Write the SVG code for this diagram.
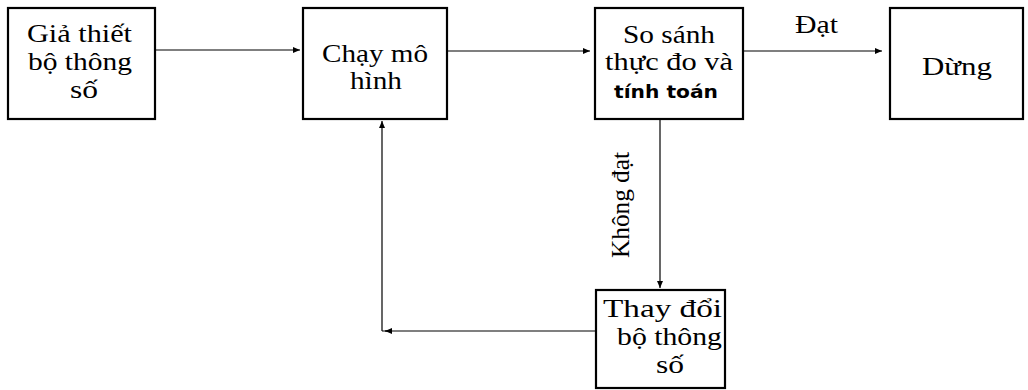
<svg xmlns="http://www.w3.org/2000/svg" width="1028" height="390" viewBox="0 0 1028 390">
<style>
.box{fill:#fff;stroke:#000;stroke-width:2.2}
.t{font-family:"Liberation Serif","Times New Roman",serif;font-size:26px;fill:#000}
.b{font-family:"DejaVu Sans",sans-serif;font-weight:bold;font-size:18px;fill:#000}
.c{fill:none;stroke:#000;stroke-width:1.2}
</style>
<defs>
<marker id="ah" viewBox="0 0 10 10" refX="10" refY="5" markerWidth="7" markerHeight="6" markerUnits="userSpaceOnUse" orient="auto" preserveAspectRatio="none">
<path d="M0,0 L10,5 L0,10 z" fill="#000"/>
</marker>
</defs>
<rect width="1028" height="390" fill="#fff"/>
<g id="connectors">
<line class="c" x1="155" y1="50" x2="300" y2="50" marker-end="url(#ah)"/>
<line class="c" x1="447" y1="51" x2="590" y2="51" marker-end="url(#ah)"/>
<line class="c" x1="743" y1="51" x2="882" y2="51" marker-end="url(#ah)"/>
<line class="c" x1="660" y1="119" x2="660" y2="288" marker-end="url(#ah)"/>
<line class="c" x1="596" y1="331" x2="382" y2="331"/>
<line class="c" x1="392" y1="331" x2="385" y2="331" marker-end="url(#ah)"/>
<line class="c" x1="382" y1="331" x2="382" y2="121" marker-end="url(#ah)"/>
<text class="t" x="795" y="33" textLength="43" lengthAdjust="spacingAndGlyphs">Đạt</text>
<text class="t" transform="translate(629,258) rotate(-90)" x="0" y="0" textLength="106" lengthAdjust="spacingAndGlyphs">Không đạt</text>
</g>
<g id="node1">
<rect class="box" x="8" y="8" width="147" height="111"/>
<text class="t" x="27" y="42" textLength="105" lengthAdjust="spacingAndGlyphs">Giả thiết</text>
<text class="t" x="28" y="70" textLength="104" lengthAdjust="spacingAndGlyphs">bộ thông</text>
<text class="t" x="70" y="98" textLength="28" lengthAdjust="spacingAndGlyphs">số</text>
</g>
<g id="node2">
<rect class="box" x="303" y="8" width="144" height="111"/>
<text class="t" x="322" y="62" textLength="106" lengthAdjust="spacingAndGlyphs">Chạy mô</text>
<text class="t" x="350" y="89" textLength="52" lengthAdjust="spacingAndGlyphs">hình</text>
</g>
<g id="node3">
<rect class="box" x="595" y="8" width="148" height="111"/>
<text class="t" x="623" y="43" textLength="92" lengthAdjust="spacingAndGlyphs">So sánh</text>
<text class="t" x="605" y="70" textLength="128" lengthAdjust="spacingAndGlyphs">thực đo và</text>
<text class="b" x="614" y="98" textLength="104" lengthAdjust="spacingAndGlyphs">tính toán</text>
</g>
<g id="node4">
<rect class="box" x="890" y="8" width="133" height="111"/>
<text class="t" x="922" y="75" textLength="70" lengthAdjust="spacingAndGlyphs">Dừng</text>
</g>
<g id="node5">
<rect class="box" x="596" y="290" width="129" height="98"/>
<text class="t" x="603" y="317" textLength="119" lengthAdjust="spacingAndGlyphs">Thay đổi</text>
<text class="t" x="617" y="345" textLength="105" lengthAdjust="spacingAndGlyphs">bộ thông</text>
<text class="t" x="656" y="373" textLength="28" lengthAdjust="spacingAndGlyphs">số</text>
</g>
</svg>
